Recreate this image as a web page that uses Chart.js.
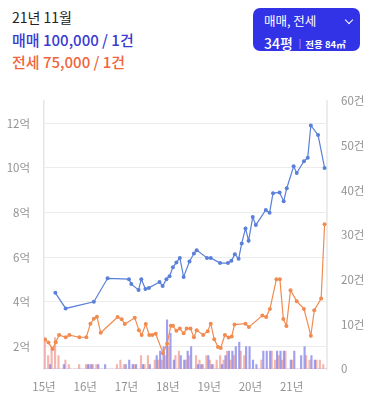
<!DOCTYPE html>
<html><head><meta charset="utf-8">
<script src="https://cdn.jsdelivr.net/npm/chart.js@4/dist/chart.umd.min.js"></script>
<style>
html,body{margin:0;padding:0;background:#fff;width:372px;height:398px;overflow:hidden;font-family:'Noto Sans CJK KR','Noto Sans',sans-serif;}
#hdr{position:absolute;left:0;top:0;width:372px;height:80px;}
.t{position:absolute;left:12px;white-space:nowrap;}
#d{top:7px;font-size:14px;color:#222;}
#s{top:29px;font-size:15px;color:#3a3ad2;font-weight:500;}
#j{top:51px;font-size:15px;color:#f0653c;font-weight:500;}
#btn{position:absolute;left:253px;top:8px;width:107px;height:43px;border-radius:7px;background:#3232e6;color:#fff;}
#b1{position:absolute;left:11px;top:3px;font-size:12.5px;white-space:nowrap;}
#chev{position:absolute;left:93px;top:9px;width:5px;height:5px;border-right:1.3px solid #fff;border-bottom:1.3px solid #fff;transform:rotate(45deg);}
#b2{position:absolute;left:11px;top:22px;white-space:nowrap;}
#b2 .p{font-size:14px;font-weight:500;}
#b2 .sep{font-size:9px;color:#b8b8ff;margin:0 4px 0 6px;vertical-align:2px;}
#b2 .a{font-size:9.5px;font-weight:700;vertical-align:1px;}
#wrap{position:absolute;left:0;top:80px;width:372px;height:318px;}
</style></head>
<body>
<div id="hdr">
  <div class="t" id="d">21년 11월</div>
  <div class="t" id="s">매매 100,000 / 1건</div>
  <div class="t" id="j">전세 75,000 / 1건</div>
  <div id="btn"><div id="b1">매매, 전세</div><div id="chev"></div><div id="b2"><span class="p">34평</span><span class="sep">|</span><span class="a">전용 84㎡</span></div></div>
</div>
<div id="wrap"><canvas id="c" width="372" height="318"></canvas></div>
<script>
// x values are months since Jan 2015
const yearTicks = [0, 12, 24, 36, 48, 60, 72];
const yearLabels = ['15년','16년','17년','18년','19년','20년','21년'];
const priceTicks = [2, 4, 6, 8, 10, 12];
const countTicks = [0, 10, 20, 30, 40, 50, 60];

// 매매 price (억)
const saleMonths = [3.3,6.3,14.5,18.5,24.7,25.4,27.5,28.3,29.5,30.5,33.6,34.5,35.6,36.5,37.5,38.5,39.5,40.6,42.3,43.6,44.4,47.4,48.5,51.2,53.5,54.5,55.5,56.6,57.5,58.6,59.5,60.7,61.6,64.5,65.6,66.6,68.5,69.7,70.6,72.6,73.5,75.6,76.7,77.6,79.7,81.6];
const salePrices = [4.41,3.71,4.01,5.06,5.02,4.80,4.54,5.02,4.58,4.63,4.89,4.71,5.02,5.15,5.55,5.77,5.97,5.12,5.81,6.17,6.32,5.97,5.97,5.74,5.74,5.84,6.14,5.93,6.62,7.29,6.74,7.80,7.44,8.12,7.99,8.87,8.90,8.51,9.09,10.07,9.77,10.30,10.46,11.90,11.47,10.0];

// 전세 price (억)
const rentMonths = [0.3,1.3,2.5,3.4,4.4,6.3,7.4,10.3,12.3,13.5,14.5,15.4,16.5,21.4,22.6,23.5,26.4,27.6,28.4,29.6,30.6,31.5,32.5,34.6,35.8,36.9,37.5,38.5,39.5,40.6,41.5,42.6,43.6,44.4,46.3,47.6,48.5,49.5,50.6,51.4,52.6,53.7,54.6,55.4,58.6,59.6,63.5,64.6,65.7,67.6,68.6,69.6,70.5,71.7,73.5,75.6,77.6,78.6,80.6,81.6];
const rentPrices = [2.32,2.19,1.89,2.2,2.52,2.42,2.52,2.42,2.42,3.03,3.25,3.34,2.62,3.33,3.23,3.01,3.29,2.74,2.52,3.01,2.52,2.52,2.58,1.71,2.13,2.94,2.94,2.71,2.81,2.60,2.81,2.81,2.42,2.74,2.52,2.69,3.03,2.33,1.99,1.94,2.52,2.41,2.45,2.99,3.03,2.88,3.39,3.33,3.68,5.02,5.02,3.24,2.93,4.53,4.03,3.69,2.49,3.63,4.15,7.48];

// monthly transaction counts (건), Jan 2015 .. Nov 2021
const saleCounts = [0,0,1,0,0,0,1,0,0,0,0,0, 0,1,1,0,1,0,1,0,0,0,0,0, 1,2,1,1,0,1,0,1,0,3,4,5, 11,8,2,0,3,2,4,5,0,1,1,0, 3,1,0,0,1,3,4,4,5,6,0,5, 5,2,1,0,4,4,4,0,4,4,4,0, 2,4,0,3,5,0,3,2,0,0,0,1,1];
const rentCounts = [7,3,5,7,3,0,2,1,0,0,1,0, 1,1,1,1,0,0,0,0,0,1,2,1, 0,0,1,0,3,1,3,0,2,2,2,3, 5,0,3,4,0,2,3,0,3,2,1,3, 2,1,2,3,2,4,2,3,0,4,3,0, 0,0,0,2,0,0,4,2,3,2,4,0, 2,0,0,0,3,2,0,2,2,1,0,0,1];

const pts = (xs, ys) => xs.map((x, i) => ({x, y: ys[i]}));
const bars = arr => arr.map((y, i) => ({x: i, y}));

const FONT = "'Noto Sans CJK KR','Noto Sans',sans-serif";
const tickColor = '#939393';

new Chart(document.getElementById('c'), {
  data: {
    datasets: [
      {type:'line', label:'매매', data: pts(saleMonths, salePrices), yAxisID:'yL', borderColor:'#5b80d9', backgroundColor:'#5b80d9', borderWidth:1.2, pointRadius:2, pointHoverRadius:2, pointBorderWidth:0, tension:0, order:0},
      {type:'line', label:'전세', data: pts(rentMonths, rentPrices), yAxisID:'yL', borderColor:'#f28b50', backgroundColor:'#f28b50', borderWidth:1.2, pointRadius:2, pointHoverRadius:2, pointBorderWidth:0, tension:0, order:0},
      {type:'bar', label:'매매 건수', data: bars(saleCounts), yAxisID:'yR', backgroundColor:'rgba(115,115,228,0.68)', barThickness:1.5, order:1},
      {type:'bar', label:'전세 건수', data: bars(rentCounts), yAxisID:'yR', backgroundColor:'rgba(240,150,140,0.7)', barThickness:1.5, order:1}
    ]
  },
  options: {
    responsive:false, animation:false,
    devicePixelRatio:1,
    layout:{padding:{top:13,left:0,right:0,bottom:0}},
    plugins:{legend:{display:false}, tooltip:{enabled:false}},
    scales:{
      x:{type:'linear', min:0, max:82.3, offset:false,
        afterBuildTicks: s => { s.ticks = yearTicks.map(v => ({value:v})); },
        afterFit: s => { s.height = 29; },
        grid:{display:false, drawTicks:false}, border:{display:false},
        ticks:{autoSkip:false, maxRotation:0, padding:11, color:tickColor, font:{family:FONT, size:11.5},
          callback: v => yearLabels[yearTicks.indexOf(v)] }
      },
      yL:{type:'linear', position:'left', min:1, max:13,
        afterBuildTicks: s => { s.ticks = priceTicks.map(v => ({value:v})); },
        afterFit: s => { s.width = 44; },
        grid:{color:'#ececec', lineWidth:1, drawTicks:false},
        border:{display:true, color:'#e6e6e6', width:1.5},
        ticks:{padding:14, color:tickColor, font:{family:FONT, size:11.5}, callback: v => v + '억'}
      },
      yR:{type:'linear', position:'right', min:0, max:60,
        afterBuildTicks: s => { s.ticks = countTicks.map(v => ({value:v})); },
        afterFit: s => { s.width = 45; },
        grid:{display:false, drawTicks:false},
        border:{display:true, color:'#ececec', width:2},
        ticks:{padding:14, color:tickColor, font:{family:FONT, size:11.5}, callback: v => v === 0 ? '0' : v + '건'}
      }
    }
  }
});
</script>
</body></html>
